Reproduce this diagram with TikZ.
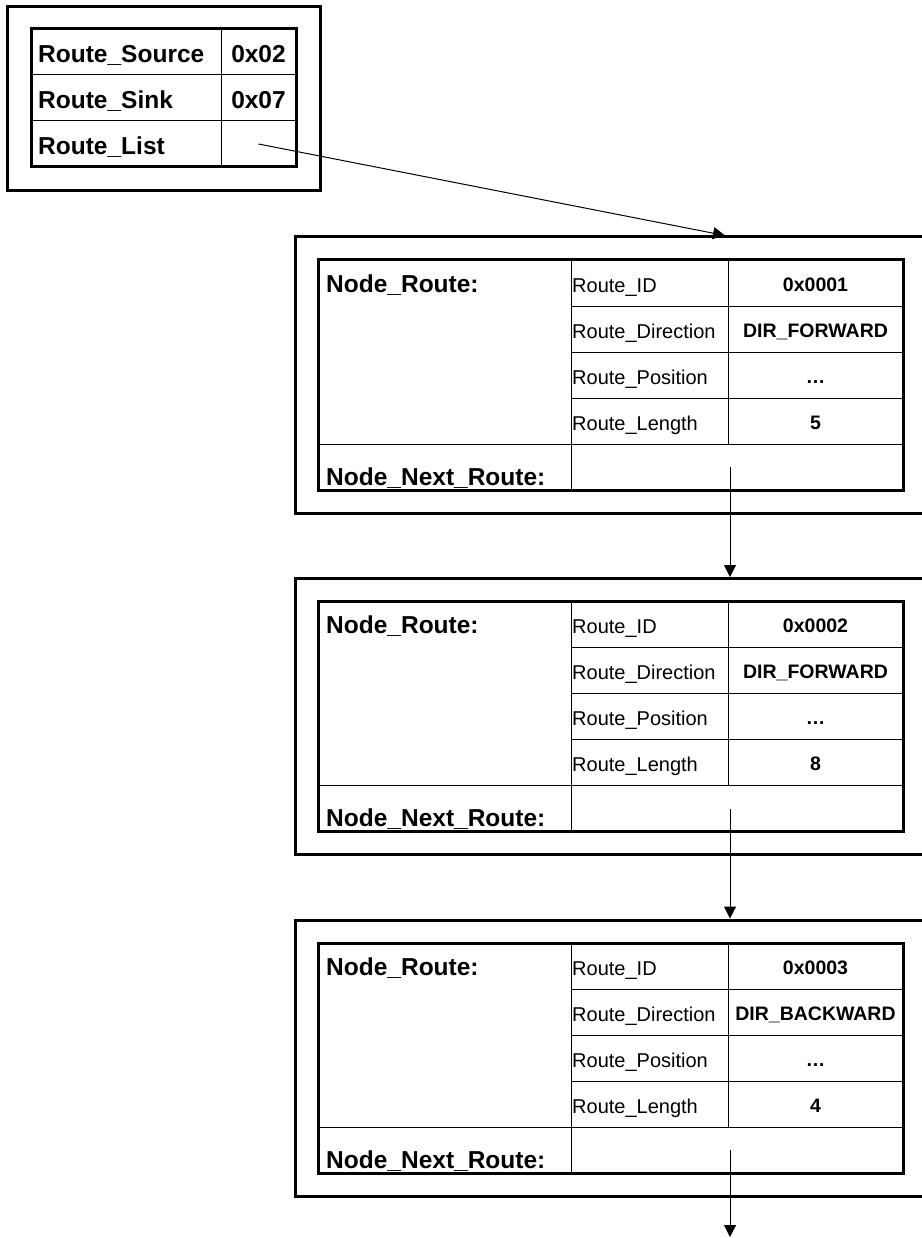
\documentclass[tikz,border=0pt]{standalone}
\usepackage{fontspec}
\setmainfont{Liberation Sans}
\usetikzlibrary{arrows.meta,positioning}

\begin{document}
\begin{tikzpicture}[x=1pt, y=-1pt,
  frame/.style={draw, line width=3pt, inner sep=0pt, outer sep=0pt, anchor=north west},
  cell/.style={draw, line width=1pt, inner sep=0pt, outer sep=0pt, anchor=north west, minimum height=46pt},
  lbl/.style={inner sep=0pt, anchor=base west, font=\bfseries\fontsize{24.5}{28}\selectfont},
  fld/.style={inner sep=0pt, anchor=base west, font=\fontsize{20}{24}\selectfont},
  val/.style={inner sep=0pt, anchor=base, font=\bfseries\fontsize{19.5}{23}\selectfont},
  link/.style={line width=1pt, -{Triangle[width=12pt,length=12pt]}}]
\useasboundingbox (0,0) rectangle (921,1238);
% Route header
\node[frame, minimum width=313, minimum height=184] (hdr) at (7,7) {};
\foreach \j/\f/\v in {0/Source/0x02, 1/Sink/0x07, 2/List/{}} {
  \node[cell, minimum width=190] (hk\j) at (31,29+46*\j) {};
  \node[cell, minimum width=75] (hv\j) at (221,29+46*\j) {};
  \node[lbl] (hkt\j) at ([xshift=7pt,yshift=12pt]hk\j.south west) {Route\_\f};
  \node[lbl, anchor=base] (hvt\j) at ([yshift=12pt]hv\j.south) {\v};
}
\draw[line width=3pt] (hk0.north west) rectangle (hv2.south east);
% Route list entries
\foreach \i/\t/\rid/\dir/\len in {1/237/0x0001/DIR\_FORWARD/5, 2/578.5/0x0002/DIR\_FORWARD/8, 3/920/0x0003/DIR\_BACKWARD/4} {
  \node[frame, minimum width=650, minimum height=276] (box\i) at (295,\t) {};
  \node[cell, minimum width=253, minimum height=184] (head\i) at (318,\t+23) {};
  \node[lbl] (headt\i) at ([xshift=8pt,yshift=-32pt]head\i.north west) {Node\_Route:};
  \foreach \j/\f/\v in {0/ID/\rid, 1/Direction/\dir, 2/Position/\ldots, 3/Length/\len} {
    \node[cell, minimum width=157] (fk\i\j) at (571,\t+23+46*\j) {};
    \node[cell, minimum width=175] (fv\i\j) at (728,\t+23+46*\j) {};
    \node[fld] (fkt\i\j) at ([xshift=1pt,yshift=14pt]fk\i\j.south west) {Route\_\f};
    \node[val] (fvt\i\j) at ([yshift=15pt]fv\i\j.south) {\v};
  }
  \node[cell, minimum width=253] (next\i) at (318,\t+207) {};
  \node[cell, minimum width=332] (ptr\i) at (571,\t+207) {};
  \node[lbl] (nextt\i) at ([xshift=8pt,yshift=5pt]next\i.south west) {Node\_Next\_Route:};
  \draw[line width=3pt] (head\i.north west) rectangle (ptr\i.south east);
  \coordinate (down\i) at ([xshift=-7pt]ptr\i.center);
}
% Pointers
\draw[link] (hv2.center) -- ([xshift=430pt,yshift=1.5pt]box1.north west);
\foreach \i/\j in {1/2, 2/3}
  \draw[link] (down\i) -- ([yshift=1.5pt]down\i |- box\j.north);
\coordinate (tail) at (730,1237);
\draw[link] (down3) -- (tail);
\end{tikzpicture}
\end{document}
